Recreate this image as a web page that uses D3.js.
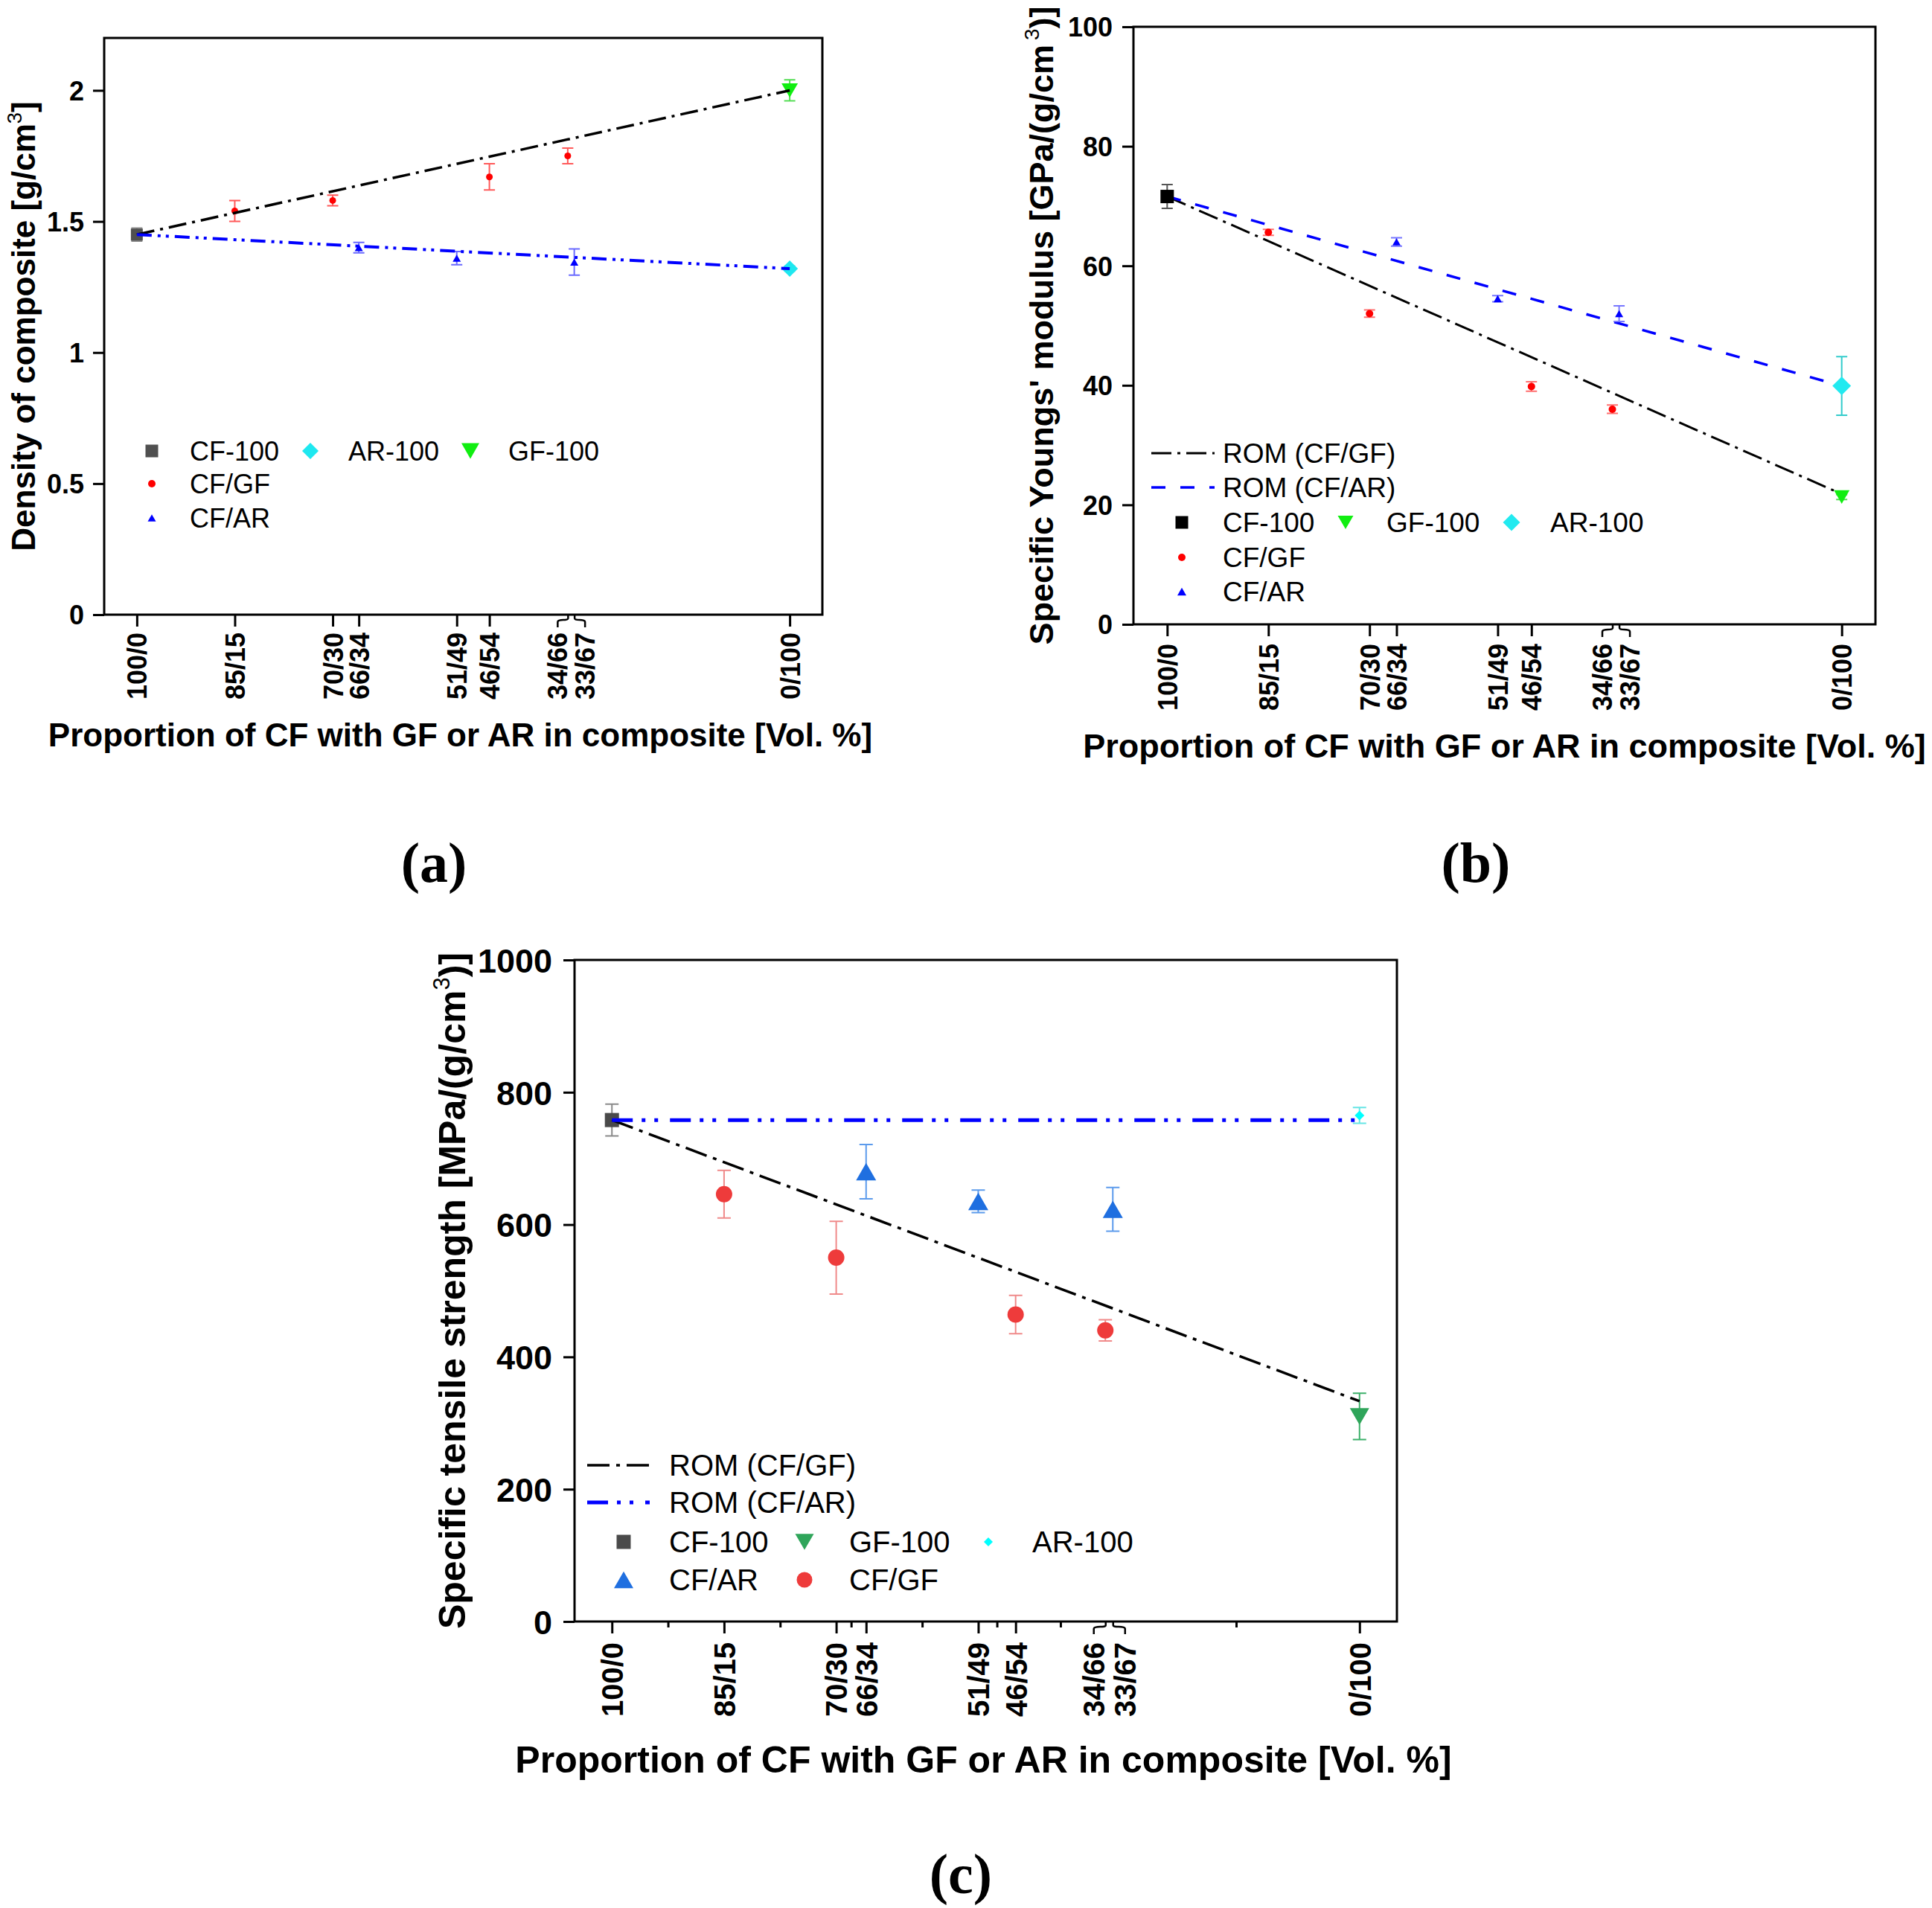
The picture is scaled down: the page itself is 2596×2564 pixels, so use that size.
<!DOCTYPE html>
<html>
<head>
<meta charset="utf-8">
<title>CF hybrid composites</title>
<script src="https://d3js.org/d3.v7.min.js"></script>
<style>
  body { margin: 0; background: #fff; }
</style>
</head>
<body>
<div id="chart"></div>
<script>
// x value = share of GF or AR in vol. % (0 = pure CF, 100 = pure GF/AR)
const xTickVals   = [0, 15, 30, 34, 49, 54, 66, 67, 100];
const xTickLabels = ['100/0', '85/15', '70/30', '66/34', '51/49', '46/54', '34/66', '33/67', '0/100'];
const minorTicksC = [7.5, 22.5, 32, 41.5, 51.5, 60, 83.5];
const xTitleText  = 'Proportion of CF with GF or AR in composite [Vol. %]';

// (a) density of composite [g/cm3]
const densTicks  = [0, 0.5, 1, 1.5, 2];
const densCF100  = [{x: 0, y: 1.45, e: 0.025}];
const densCFGF   = [{x: 15, y: 1.54, e: 0.04}, {x: 30, y: 1.58, e: 0.02}, {x: 54, y: 1.67, e: 0.05}, {x: 66, y: 1.75, e: 0.03}];
const densCFAR   = [{x: 34, y: 1.40, e: 0.02}, {x: 49, y: 1.36, e: 0.025}, {x: 67, y: 1.345, e: 0.05}];
const densGF100  = [{x: 100, y: 2.0, e: 0.04}];
const densAR100  = [{x: 100, y: 1.32, e: 0.01}];
const densRomGF  = [[0, 1.45], [100, 2.0]];
const densRomAR  = [[0, 1.45], [100, 1.32]];

// (b) specific Young's modulus [GPa/(g/cm3)]
const modTicks   = [0, 20, 40, 60, 80, 100];
const modCF100   = [{x: 0, y: 71.6, e: 2.0}];
const modCFGF    = [{x: 15, y: 65.6, e: 0.5}, {x: 30, y: 52.0, e: 0.6}, {x: 54, y: 39.8, e: 0.8}, {x: 66, y: 36.0, e: 0.7}];
const modCFAR    = [{x: 34, y: 64.0, e: 0.7}, {x: 49, y: 54.5, e: 0.5}, {x: 67, y: 52.0, e: 1.3}];
const modGF100   = [{x: 100, y: 21.3, e: 0.4}];
const modAR100   = [{x: 100, y: 39.9, e: 4.9}];
const modRomGF   = [[0, 71.6], [100, 21.8]];
const modRomAR   = [[0, 71.6], [100, 39.9]];

// (c) specific tensile strength [MPa/(g/cm3)]
const strTicks   = [0, 200, 400, 600, 800, 1000];
const strCF100   = [{x: 0, y: 758, e: 24}];
const strCFGF    = [{x: 15, y: 646, e: 36}, {x: 30, y: 550, e: 55}, {x: 54, y: 464, e: 29}, {x: 66, y: 440, e: 16}];
const strCFAR    = [{x: 34, y: 680, e: 41}, {x: 49, y: 635, e: 17}, {x: 67, y: 623, e: 33}];
const strGF100   = [{x: 100, y: 310, e: 35}];
const strAR100   = [{x: 100, y: 765, e: 12}];
const strRomGF   = [[0, 758], [100, 333]];
const strRomAR   = [[0, 758], [100, 758]];

const FONT  = "'Liberation Sans', Arial, sans-serif";
const SERIF = "'Liberation Serif', 'Times New Roman', serif";

const svg = d3.select('#chart').append('svg')
    .attr('width', 2596).attr('height', 2564)
    .style('display', 'block');
svg.append('rect').attr('width', 2596).attr('height', 2564).attr('fill', '#fff');

function markerPath(shape, w) {
  const h = w / 2, th = w * Math.sqrt(3) / 2;
  if (shape === 'square')  return `M${-h},${-h}H${h}V${h}H${-h}Z`;
  if (shape === 'circle')  return `M${h},0A${h},${h} 0 1,1 ${-h},0A${h},${h} 0 1,1 ${h},0Z`;
  if (shape === 'up')      return `M0,${-th / 2}L${h},${th / 2}L${-h},${th / 2}Z`;
  if (shape === 'down')    return `M0,${th / 2}L${h},${-th / 2}L${-h},${-th / 2}Z`;
  if (shape === 'diamond') return `M0,${-h}L${h},0L0,${h}L${-h},0Z`;
}

function drawPanel(p) {
  const g = svg.append('g');
  const x = d3.scaleLinear().domain([-5, 105]).range([p.left, p.right]);
  const y = d3.scaleLinear().domain(p.yDomain).range([p.bottom, p.top]);
  const line = d3.line().x(d => x(d[0])).y(d => y(d[1]));

  const drawLines = () => p.lines.forEach(l => {
    g.append('path').attr('d', line(l.pts))
      .attr('fill', 'none').attr('stroke', l.color)
      .attr('stroke-width', l.width).attr('stroke-dasharray', l.dash);
  });
  if (!p.linesOnTop) drawLines();

  // error bars
  p.series.forEach(s => {
    g.append('g').attr('stroke', s.err).attr('stroke-width', 2).attr('fill', 'none')
      .selectAll('path').data(s.data).join('path')
      .attr('d', d => {
        const cx = x(d.x), ya = y(d.y + d.e), yb = y(d.y - d.e), c = p.cap / 2;
        return `M${cx},${ya}V${yb}M${cx - c},${ya}H${cx + c}M${cx - c},${yb}H${cx + c}`;
      });
  });
  // markers
  p.series.forEach(s => {
    g.append('g').selectAll('path').data(s.data).join('path')
      .attr('transform', d => `translate(${x(d.x)},${y(d.y)})`)
      .attr('d', markerPath(s.shape, s.size))
      .attr('fill', s.fill);
  });
  if (p.linesOnTop) drawLines();

  // frame
  g.append('rect')
    .attr('x', p.left).attr('y', p.top)
    .attr('width', p.right - p.left).attr('height', p.bottom - p.top)
    .attr('fill', 'none').attr('stroke', '#000').attr('stroke-width', 3);

  // x axis
  const xa = g.append('g').attr('transform', `translate(0,${p.bottom})`)
    .call(d3.axisBottom(x).tickValues(xTickVals)
      .tickFormat((d, i) => xTickLabels[i]).tickSize(16).tickSizeOuter(0));
  xa.select('.domain').remove();
  xa.attr('font-family', FONT).attr('font-size', p.xTickSize).attr('font-weight', 'bold');
  xa.selectAll('line').attr('stroke', '#000').attr('stroke-width', 3);
  xa.selectAll('text')
    .attr('fill', '#000')
    .attr('transform', 'rotate(-90)')
    .attr('x', -p.xLabelGap).attr('y', 0).attr('dy', '0.36em')
    .style('text-anchor', 'end');
  // 34/66 and 33/67 sit almost on top of each other: split them with little braces
  xa.selectAll('.tick').filter(d => d === 66 || d === 67).each(function (d) {
    const off = d === 66 ? -p.brace : p.brace;
    const t = d3.select(this);
    t.select('line').remove();
    t.append('path')
      .attr('d', `M0,0V5C0,9 ${off},5 ${off},10V17`)
      .attr('fill', 'none').attr('stroke', '#000').attr('stroke-width', 2.5);
    t.select('text').attr('y', off);
  });
  if (p.minor) {
    const mg = g.append('g').attr('transform', `translate(0,${p.bottom})`)
      .call(d3.axisBottom(x).tickValues(p.minor).tickFormat('').tickSize(8).tickSizeOuter(0));
    mg.select('.domain').remove();
    mg.selectAll('line').attr('stroke', '#000').attr('stroke-width', 3);
  }

  // y axis
  const yax = g.append('g').attr('transform', `translate(${p.left},0)`)
    .call(d3.axisLeft(y).tickValues(p.yTicks).tickFormat(d => String(d))
      .tickSize(15).tickPadding(p.yPad).tickSizeOuter(0));
  yax.select('.domain').remove();
  yax.attr('font-family', FONT).attr('font-size', p.yTickSize).attr('font-weight', 'bold');
  yax.selectAll('line').attr('stroke', '#000').attr('stroke-width', 3);
  yax.selectAll('text').attr('fill', '#000').attr('dy', '0.36em');

  // titles
  g.append('text')
    .attr('x', (p.left + p.right) / 2 + p.xTitleDx).attr('y', p.xTitleY)
    .attr('text-anchor', 'middle')
    .attr('font-family', FONT).attr('font-weight', 'bold').attr('font-size', p.titleSize)
    .text(xTitleText);

  const s = p.titleSize;
  const yt = g.append('text')
    .attr('transform', `translate(${p.yTitleX},${(p.top + p.bottom) / 2}) rotate(-90)`)
    .attr('text-anchor', 'middle')
    .attr('font-family', FONT).attr('font-weight', 'bold').attr('font-size', s);
  let shifted = false;
  p.yTitle.forEach(part => {
    const ts = yt.append('tspan').text(part.t);
    if (part.sup) {
      ts.attr('font-size', s * 0.62).attr('dy', -s * 0.42).attr('font-weight', 'normal');
      if (part.dx) ts.attr('dx', part.dx);
      shifted = true;
    } else if (shifted) {
      ts.attr('dy', s * 0.42);
      shifted = false;
    }
  });

  // legend
  p.legend.forEach(it => {
    if (it.line) {
      g.append('line')
        .attr('x1', it.x1).attr('x2', it.x2).attr('y1', it.y).attr('y2', it.y)
        .attr('stroke', it.line.color).attr('stroke-width', it.line.width)
        .attr('stroke-dasharray', it.line.dash);
    } else {
      g.append('path')
        .attr('transform', `translate(${it.mx},${it.y})`)
        .attr('d', markerPath(it.s.shape, it.legSize || it.s.size))
        .attr('fill', it.s.fill);
    }
    g.append('text')
      .attr('x', it.tx).attr('y', it.y).attr('dy', '0.36em')
      .attr('font-family', FONT).attr('font-size', p.legendSize)
      .text(it.text);
  });

  // panel label
  svg.append('text')
    .attr('x', p.tag[0]).attr('y', p.tag[1])
    .attr('text-anchor', 'middle')
    .attr('font-family', SERIF).attr('font-weight', 'bold').attr('font-size', 76)
    .text(p.tagText);
}

// ---------- (a) ----------
const aS = {
  cf:   {data: densCF100, shape: 'square',  size: 16, fill: '#505050', err: '#8a8a8a'},
  cfgf: {data: densCFGF,  shape: 'circle',  size: 9,  fill: '#ff0000', err: '#ff5a5a'},
  cfar: {data: densCFAR,  shape: 'up',      size: 11, fill: '#0000ff', err: '#6a6aff'},
  gf:   {data: densGF100, shape: 'down',    size: 22, fill: '#11ee11', err: '#55dd55'},
  ar:   {data: densAR100, shape: 'diamond', size: 22, fill: '#1ee8f0', err: '#7fe0e0'}
};
const aL = {
  gf: {pts: densRomGF, color: '#000', width: 3.5, dash: '24,8,4,8'},
  ar: {pts: densRomAR, color: '#0000ff', width: 4, dash: '20,8,4,7,4,8'}
};
drawPanel({
  left: 140, right: 1105, top: 51, bottom: 826,
  yDomain: [0, 2.2], yTicks: densTicks, yPad: 12,
  xTickSize: 36, yTickSize: 36, xLabelGap: 24, brace: 14,
  cap: 15, linesOnTop: true,
  series: [aS.cfgf, aS.cfar, aS.cf, aS.gf, aS.ar],
  lines: [aL.gf, aL.ar],
  titleSize: 44, xTitleY: 1003, xTitleDx: -4, yTitleX: 47,
  yTitle: [{t: 'Density of composite [g/cm'}, {t: '3', sup: true}, {t: ']'}],
  legendSize: 36,
  legend: [
    {s: aS.cf,   mx: 204, tx: 255, y: 606, text: 'CF-100', legSize: 17},
    {s: aS.ar,   mx: 417, tx: 468, y: 606, text: 'AR-100', legSize: 22},
    {s: aS.gf,   mx: 632, tx: 683, y: 606, text: 'GF-100', legSize: 24},
    {s: aS.cfgf, mx: 204, tx: 255, y: 650, text: 'CF/GF', legSize: 10},
    {s: aS.cfar, mx: 204, tx: 255, y: 696, text: 'CF/AR', legSize: 11}
  ],
  tag: [583, 1185], tagText: '(a)'
});

// ---------- (b) ----------
const bS = {
  cf:   {data: modCF100, shape: 'square',  size: 18, fill: '#000000', err: '#555555'},
  cfgf: {data: modCFGF,  shape: 'circle',  size: 10, fill: '#ff0000', err: '#ff7070'},
  cfar: {data: modCFAR,  shape: 'up',      size: 11, fill: '#0000ff', err: '#7777ff'},
  gf:   {data: modGF100, shape: 'down',    size: 21, fill: '#11ee11', err: '#55dd55'},
  ar:   {data: modAR100, shape: 'diamond', size: 25, fill: '#22eaf0', err: '#33cccc'}
};
const bL = {
  gf: {pts: modRomGF, color: '#000', width: 3, dash: '27,8,4,8'},
  ar: {pts: modRomAR, color: '#0000ff', width: 3.5, dash: '19,20'}
};
drawPanel({
  left: 1523, right: 2520, top: 36, bottom: 839,
  yDomain: [0, 100], yTicks: modTicks, yPad: 13,
  xTickSize: 36, yTickSize: 36, xLabelGap: 26, brace: 14,
  cap: 15, linesOnTop: false,
  series: [bS.cfgf, bS.cfar, bS.cf, bS.gf, bS.ar],
  lines: [bL.gf, bL.ar],
  titleSize: 45, xTitleY: 1018, xTitleDx: 0, yTitleX: 1415,
  yTitle: [{t: "Specific Youngs' modulus [GPa/(g/cm"}, {t: '3', sup: true, dx: 6}, {t: ')]'}],
  legendSize: 37,
  legend: [
    {line: bL.gf, x1: 1547, x2: 1632, y: 609, tx: 1643, text: 'ROM (CF/GF)'},
    {line: bL.ar, x1: 1547, x2: 1632, y: 655, tx: 1643, text: 'ROM (CF/AR)'},
    {s: bS.cf,   mx: 1588, tx: 1643, y: 702, text: 'CF-100', legSize: 17},
    {s: bS.gf,   mx: 1808, tx: 1863, y: 702, text: 'GF-100', legSize: 21},
    {s: bS.ar,   mx: 2031, tx: 2083, y: 702, text: 'AR-100', legSize: 23},
    {s: bS.cfgf, mx: 1588, tx: 1643, y: 749, text: 'CF/GF', legSize: 10},
    {s: bS.cfar, mx: 1588, tx: 1643, y: 795, text: 'CF/AR', legSize: 12}
  ],
  tag: [1983, 1185], tagText: '(b)'
});

// ---------- (c) ----------
const cS = {
  cf:   {data: strCF100, shape: 'square',  size: 19, fill: '#4a4a4a', err: '#8a8a8a'},
  cfgf: {data: strCFGF,  shape: 'circle',  size: 22, fill: '#ee3b3b', err: '#f08a8a'},
  cfar: {data: strCFAR,  shape: 'up',      size: 27, fill: '#1f6fe0', err: '#5c9bec'},
  gf:   {data: strGF100, shape: 'down',    size: 26, fill: '#2fa55a', err: '#3cb06a'},
  ar:   {data: strAR100, shape: 'diamond', size: 13, fill: '#00ffff', err: '#66e5e5'}
};
const cL = {
  gf: {pts: strRomGF, color: '#000', width: 3.5, dash: '30,9,5,9'},
  ar: {pts: strRomAR, color: '#0000ff', width: 5, dash: '28,12,5,12,5,16'}
};
drawPanel({
  left: 772, right: 1877, top: 1290, bottom: 2179,
  yDomain: [0, 1000], yTicks: strTicks, yPad: 15,
  xTickSize: 40, yTickSize: 45, xLabelGap: 28, brace: 16,
  cap: 18, linesOnTop: true, minor: minorTicksC,
  series: [cS.cfgf, cS.cfar, cS.cf, cS.gf, cS.ar],
  lines: [cL.gf, cL.ar],
  titleSize: 50, xTitleY: 2382, xTitleDx: -3, yTitleX: 625,
  yTitle: [{t: 'Specific tensile strength [MPa/(g/cm'}, {t: '3', sup: true}, {t: ')]'}],
  legendSize: 40,
  legend: [
    {line: cL.gf, x1: 789, x2: 873, y: 1969, tx: 899, text: 'ROM (CF/GF)'},
    {line: cL.ar, x1: 789, x2: 873, y: 2019, tx: 899, text: 'ROM (CF/AR)'},
    {s: cS.cf,   mx: 838,  tx: 899,  y: 2072, text: 'CF-100', legSize: 19},
    {s: cS.gf,   mx: 1081, tx: 1141, y: 2072, text: 'GF-100', legSize: 25},
    {s: cS.ar,   mx: 1328, tx: 1387, y: 2072, text: 'AR-100', legSize: 12},
    {s: cS.cfar, mx: 838,  tx: 899,  y: 2123, text: 'CF/AR', legSize: 26},
    {s: cS.cfgf, mx: 1081, tx: 1141, y: 2123, text: 'CF/GF', legSize: 21}
  ],
  tag: [1291, 2544], tagText: '(c)'
});
</script>
</body>
</html>
